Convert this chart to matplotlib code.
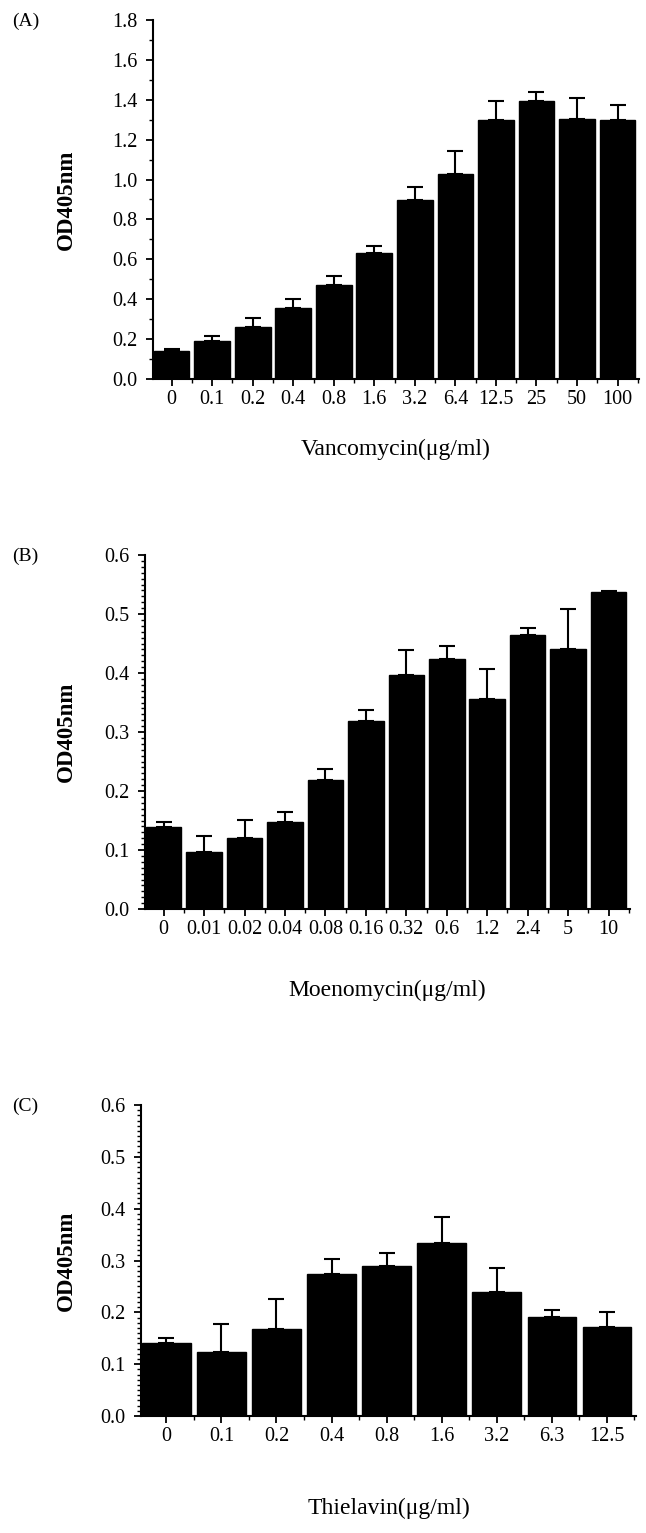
import matplotlib
matplotlib.use("Agg")
import matplotlib.pyplot as plt
from matplotlib.ticker import MultipleLocator, FixedLocator
import numpy as np

plt.rcParams['font.family'] = ['Liberation Serif', 'DejaVu Serif']

# ---------------- data ----------------
vanco_labels = ["0", "0.1", "0.2", "0.4", "0.8", "1.6", "3.2", "6.4", "12.5", "25", "50", "100"]
vanco_values = [0.14, 0.19, 0.263, 0.355, 0.472, 0.633, 0.898, 1.028, 1.298, 1.395, 1.302, 1.297]
vanco_errors = [0.012, 0.027, 0.042, 0.048, 0.045, 0.034, 0.067, 0.115, 0.095, 0.043, 0.108, 0.078]

moeno_labels = ["0", "0.01", "0.02", "0.04", "0.08", "0.16", "0.32", "0.6", "1.2", "2.4", "5", "10"]
moeno_values = [0.139, 0.097, 0.121, 0.148, 0.218, 0.319, 0.397, 0.424, 0.356, 0.464, 0.441, 0.537]
moeno_errors = [0.009, 0.026, 0.030, 0.017, 0.019, 0.019, 0.042, 0.021, 0.051, 0.012, 0.067, 0.002]

thiel_labels = ["0", "0.1", "0.2", "0.4", "0.8", "1.6", "3.2", "6.3", "12.5"]
thiel_values = [0.140, 0.123, 0.168, 0.274, 0.290, 0.334, 0.239, 0.191, 0.172]
thiel_errors = [0.010, 0.055, 0.058, 0.028, 0.025, 0.050, 0.047, 0.013, 0.028]

W, H = 646, 1533
fig = plt.figure(figsize=(W / 100, H / 100), dpi=100)


def px_axes(left, right, top, bottom):
    return fig.add_axes([left / W, 1 - bottom / H, (right - left) / W, (bottom - top) / H])


panels = [
    dict(box=(153, 639, 20, 379), labels=vanco_labels, values=vanco_values, errors=vanco_errors,
         ymax=1.8, major=0.2, minor=0.1, tag="(A)", xlabel="Vancomycin(μg/ml)", xlabel_y=449),
    dict(box=(145, 630, 555, 909), labels=moeno_labels, values=moeno_values, errors=moeno_errors,
         ymax=0.6, major=0.1, minor=0.01, tag="(B)", xlabel="Moenomycin(μg/ml)", xlabel_y=990),
    dict(box=(141, 636, 1105, 1416), labels=thiel_labels, values=thiel_values, errors=thiel_errors,
         ymax=0.6, major=0.1, minor=0.01, tag="(C)", xlabel="Thielavin(μg/ml)", xlabel_y=1508),
]

for p in panels:
    l, r, t, b = p["box"]
    ax = px_axes(l, r, t, b)
    n = len(p["labels"])
    x = np.arange(n)
    ax.bar(x, p["values"], width=0.88, color="black", edgecolor="black", zorder=2)
    ax.errorbar(x, p["values"], yerr=[np.zeros(n), p["errors"]], fmt="none", ecolor="black",
                elinewidth=1.5, capsize=5.5, capthick=1.5, zorder=3)
    ax.set_xlim(-0.46, n - 0.47)
    ax.set_ylim(0, p["ymax"])
    for s in ["top", "right"]:
        ax.spines[s].set_visible(False)
    for s in ["left", "bottom"]:
        ax.spines[s].set_linewidth(1.5)
    ax.set_xticks(x)
    ax.set_xticklabels(p["labels"])
    ax.xaxis.set_minor_locator(FixedLocator(np.arange(n) + 0.5))
    ticks = np.arange(0, p["ymax"] + 1e-9, p["major"])
    ax.set_yticks(ticks)
    ax.set_yticklabels(["{:.1f}".format(v) for v in ticks])
    ax.yaxis.set_minor_locator(MultipleLocator(p["minor"]))
    ax.tick_params(axis="both", which="major", direction="out", length=5, width=1.3,
                   labelsize=14.5)
    ax.tick_params(axis="both", which="minor", direction="out", length=3, width=1.0)
    ax.tick_params(axis="x", which="major", pad=3)
    ax.tick_params(axis="y", which="major", pad=6)

    fig.text(12 / W, 1 - (t + 1) / H, p["tag"], fontsize=14, ha="left", va="center")
    fig.text(66 / W, 1 - ((t + b) / 2) / H, "OD405nm", fontsize=16.5, fontweight="bold",
             rotation=90, ha="center", va="center")
    fig.text(((l + r) / 2) / W, 1 - p["xlabel_y"] / H, p["xlabel"], fontsize=17,
             ha="center", va="center")

fig.savefig("out.png", dpi=100, facecolor="white")
